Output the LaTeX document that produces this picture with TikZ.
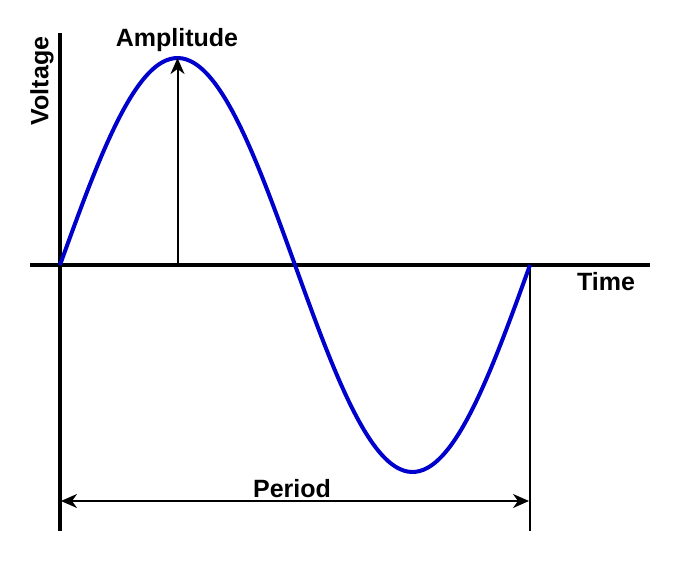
\documentclass[tikz,border=0pt]{standalone}
\usepackage{fontspec}
\setmainfont{Liberation Sans}
\usetikzlibrary{arrows.meta}

\begin{document}
\begin{tikzpicture}[x=1pt, y=-1pt, font=\fontsize{25}{28}\selectfont\bfseries,
  tip/.tip={Stealth[length=16pt, width=14pt, inset=5pt]},
  axis/.style={line width=4.5pt},
  wave/.style={line width=4pt, draw=blue!80!black},
  dim/.style={line width=2pt}]
\useasboundingbox (0,0) rectangle (679,561);
\coordinate (o)     at (60,265);
\coordinate (peak)  at (177.5,58);
\coordinate (foot)  at (177.5,265);
\coordinate (end)   at (530,265);
\coordinate (vtop)  at (60,33);
\coordinate (vbot)  at (60,531);
\coordinate (hleft) at (30,265);
\coordinate (hright) at (650,265);
\coordinate (ebot)  at (530,531);
\coordinate (pl)    at (61,501);
\coordinate (pr)    at (529,501);
% axes
\draw[axis] (vtop) -- (vbot);
\draw[axis] (hleft) -- (hright);
\draw[dim] (end) -- (ebot);
% one period of the wave
\draw[wave] plot[domain=0:360, samples=120, smooth] ({60+1.305556*\x},{265-207*sin(\x)});
\draw[dim, -tip] (foot) -- (peak);
\draw[dim, tip-tip] (pl) -- (pr);
\node (amp)    at (177,40)  {Amplitude};
\node[rotate=90] (volt) at (42,81) {Voltage};
\node (time)   at (606,282) {Time};
\node (period) at (292,489) {Period};
\end{tikzpicture}
\end{document}
